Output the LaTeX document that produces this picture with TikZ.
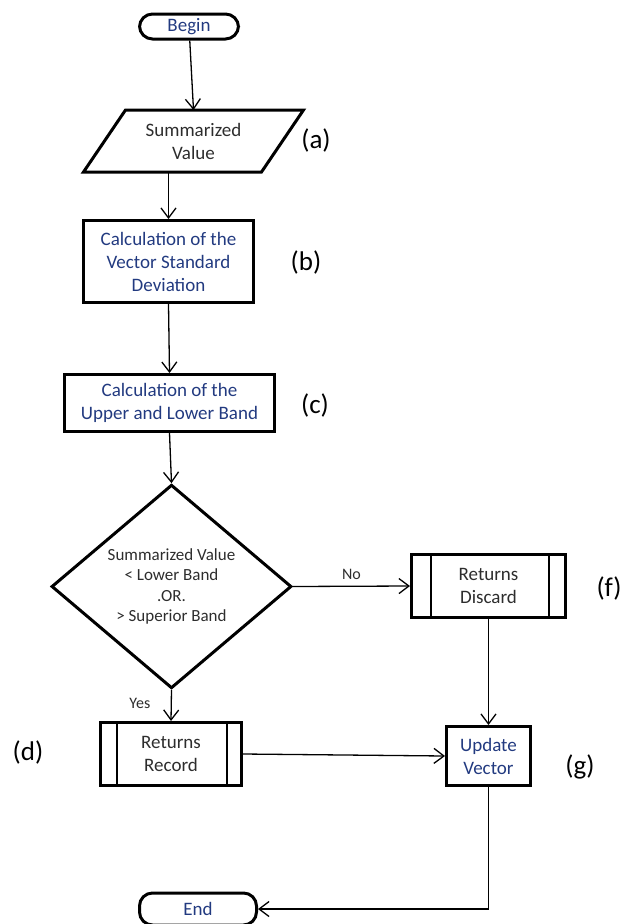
\documentclass[tikz,border=0pt]{standalone}
\usepackage{fontspec}
\setmainfont{Carlito}
\usepackage{tikz}
\usetikzlibrary{arrows.meta,shapes.geometric}
\definecolor{navy}{RGB}{34,58,128}
\definecolor{ink}{RGB}{45,45,45}

\begin{document}
\begin{tikzpicture}[x=1pt,y=-1pt,
  box/.style={draw,line width=3pt,align=center,inner sep=2pt,
    font=\fontsize{19}{23}\selectfont},
  term/.style={box,rounded corners=13pt,text=navy},
  calc/.style={box,text=navy},
  plain/.style={box,text=ink},
  flow/.style={line width=1.3pt,-{Straight Barb[length=10pt,width=15pt,line width=1.3pt]}},
  tag/.style={font=\fontsize{27}{30}\selectfont},
  answer/.style={font=\fontsize{16}{18}\selectfont,text=ink}]

  \useasboundingbox (0,0) rectangle (623,924);

  \node[term,minimum width=99pt,minimum height=25pt] (begin) at (189,26.5) {Begin};
  \node[plain,draw=none,minimum width=175pt,minimum height=59pt] (value) at (193.5,141) {Summarized\\Value};
  \draw[line width=3pt,line join=miter] ([xshift=21pt]value.north west) -- ([xshift=21pt]value.north east)
    -- ([xshift=-21pt]value.south east) -- ([xshift=-21pt]value.south west) -- cycle;
  \node[calc,minimum width=170pt,minimum height=82pt] (stdev) at (168.5,261.5) {Calculation of the\\Vector Standard\\Deviation};
  \node[calc,minimum width=210pt,minimum height=57pt] (band) at (169.5,403) {Calculation of the\\Upper and Lower Band};
  \node[plain,shape=diamond,inner sep=0pt,minimum width=240pt,minimum height=174pt,
    font=\fontsize{17}{20.5}\selectfont] (test) at (171.5,586.5) {Summarized Value\\< Lower Band\\.OR.\\> Superior Band};
  \node[plain,minimum width=154pt,minimum height=63pt] (discard) at (488.5,586) {Returns\\Discard};
  \node[plain,minimum width=141pt,minimum height=63pt] (record) at (171,754) {Returns\\Record};
  \node[calc,minimum width=84pt,minimum height=59pt] (update) at (488.5,756) {Update\\Vector};
  \node[term,minimum width=117pt,minimum height=32pt] (end) at (198,909) {End};

  % inner bars of the predefined processes
  \foreach \n/\l/\r in {record/17.5pt/-16.5pt,discard/20.5pt/-18.5pt}{
    \draw[line width=2pt] ([xshift=\l]\n.north west) -- ([xshift=\l]\n.south west);
    \draw[line width=2pt] ([xshift=\r]\n.north east) -- ([xshift=\r]\n.south east);
  }

  \node[tag] (la) at (316,140) {(a)};
  \node[tag] (lb) at (306,262) {(b)};
  \node[tag] (lc) at (315,405) {(c)};
  \node[tag] (ld) at (28,752) {(d)};
  \node[tag] (lf) at (609,588) {(f)};
  \node[tag] (lg) at (580,767) {(g)};

  \draw[flow] (begin) -- (value.north);
  \draw[flow] (value.south -| stdev.north) -- (stdev.north);
  \draw[flow] (stdev.south) -- (band.north);
  \draw[flow] (band.south) -- (test.north);
  \draw[flow] (test.east) -- node[answer,above=3pt] (no) {No} (discard.west);
  \draw[flow] (test.south) -- node[answer,left=17pt,pos=0.45] (yes) {Yes} (record.north);
  \draw[flow] (discard.south) -- (update.north);
  \draw[flow] (record.east) -- (update.west);
  \draw[flow] (update.south) |- (end.east);

\end{tikzpicture}
\end{document}
